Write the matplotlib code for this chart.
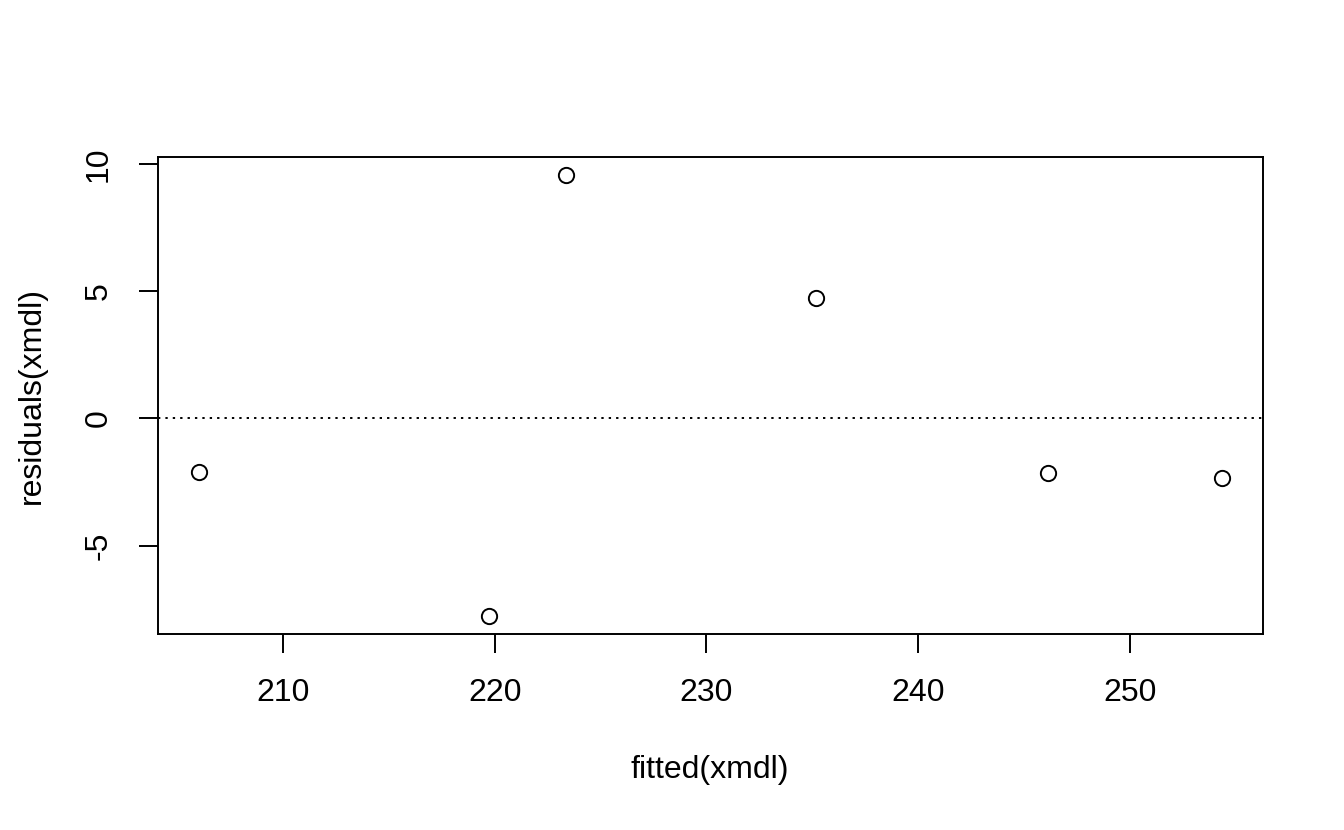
import numpy as np
import matplotlib.pyplot as plt

# fitted values and residuals
fitted = [206.04, 219.72, 223.35, 235.19, 246.13, 254.34]
resid = [-2.12, -7.78, 9.58, 4.75, -2.16, -2.36]
xticks = [210, 220, 230, 240, 250]
yticks = [-5, 0, 5, 10]

plt.rcParams['font.family'] = ['Liberation Sans', 'DejaVu Sans']

fig = plt.figure(figsize=(13.44, 8.3), dpi=100)
ax = fig.add_axes([158/1344, 1-634/830, (1263-158)/1344, (634-157)/830])

ax.plot(fitted, resid, 'o', ms=11, mfc='none', mec='black', mew=1.4)
ax.axhline(0, color='black', lw=1.4, linestyle=(0, (1.2, 2.6)))

# R style 4% padding
xr = max(fitted) - min(fitted)
yr = max(resid) - min(resid)
ax.set_xlim(min(fitted) - 0.04*xr, max(fitted) + 0.04*xr)
ax.set_ylim(min(resid) - 0.04*yr, max(resid) + 0.04*yr)

ax.set_xticks(xticks)
ax.set_yticks(yticks)
ax.set_yticklabels([str(v) for v in yticks], rotation=90, va='center')
ax.tick_params(direction='out', length=13.7, width=1.4, labelsize=23, pad=18, color='black')

for s in ax.spines.values():
    s.set_linewidth(1.4)

fig.text(710/1344, 1-770/830, 'fitted(xmdl)', ha='center', va='center', fontsize=23)
fig.text(32/1344, 1-395/830, 'residuals(xmdl)', ha='center', va='center', fontsize=23, rotation=90)

fig.savefig('out.png', dpi=100)
